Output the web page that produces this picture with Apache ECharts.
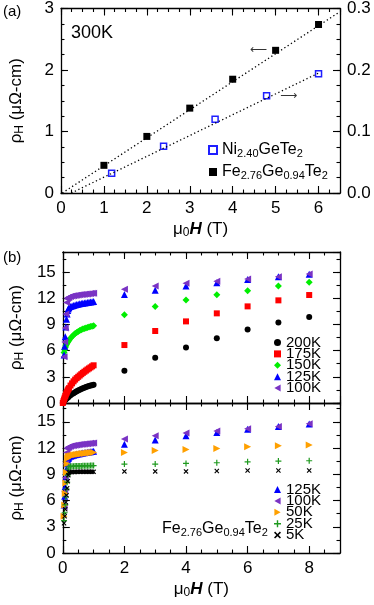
<!DOCTYPE html>
<html>
<head>
<meta charset="utf-8">
<script src="https://cdn.jsdelivr.net/npm/echarts@6/dist/echarts.min.js"></script>
<style>
html,body{margin:0;padding:0;background:#fff}
#main{width:374px;height:605px}
</style>
</head>
<body>
<div id="main"></div>
<script>
var FONT = '"Liberation Sans", Arial, Helvetica, sans-serif';

// (a) 300 K
var fieldFe = [1, 2, 3, 4, 5, 6];
var rhoFe = [0.45, 0.92, 1.38, 1.85, 2.32, 2.74];
var fieldNi = [1.18, 2.39, 3.59, 4.79, 6.0];
var rhoNi = [0.032, 0.076, 0.120, 0.158, 0.194];
var fitFe = [[0.03, 0], [6.46, 2.93]];
var fitNi = [[0.24, 0], [6.0, 0.195]];

// (b) field grids
var fieldLow = [0, 0.02, 0.04, 0.06, 0.08, 0.1, 0.12, 0.14, 0.16, 0.18, 0.2, 0.25, 0.3, 0.35, 0.4, 0.45, 0.5, 0.55, 0.6, 0.65, 0.7, 0.75, 0.8, 0.85, 0.9, 0.95, 1.0];
var fieldHigh = [2, 3, 4, 5, 6, 7, 8];

var low200 = [0, 0.1, 0.2, 0.28, 0.36, 0.44, 0.51, 0.58, 0.64, 0.7, 0.76, 0.9, 1.02, 1.13, 1.24, 1.34, 1.44, 1.53, 1.61, 1.69, 1.76, 1.83, 1.89, 1.95, 2.0, 2.04, 2.08];
var high200 = [3.69, 5.18, 6.36, 7.43, 8.42, 9.22, 9.86];
var low175 = [0, 0.2, 0.4, 0.6, 0.8, 0.98, 1.15, 1.3, 1.45, 1.58, 1.7, 2.0, 2.25, 2.48, 2.68, 2.85, 3.0, 3.15, 3.3, 3.45, 3.58, 3.71, 3.84, 3.96, 4.08, 4.2, 4.32];
var high175 = [6.64, 8.25, 9.35, 10.27, 11.07, 11.76, 12.37];
var low150 = [null, null, 5.8, 6.1, 6.35, 6.55, 6.72, 6.86, 6.98, 7.1, 7.2, 7.42, 7.62, 7.8, 7.95, 8.08, 8.2, 8.3, 8.39, 8.47, 8.54, 8.6, 8.66, 8.71, 8.76, 8.8, 8.84];
var high150 = [10.11, 11.07, 11.8, 12.41, 12.87, 13.4, 13.83];
var low125 = [null, null, 5.5, 6.5, 7.6, 8.7, 9.6, 10.2, 10.6, 10.8, 10.95, 11.05, 11.12, 11.18, 11.23, 11.28, 11.32, 11.36, 11.4, 11.43, 11.46, 11.49, 11.52, 11.55, 11.58, 11.6, 11.62];
var high125 = [12.42, 12.92, 13.4, 13.78, 14.15, 14.47, 14.76];
var low100 = [null, null, 5.3, 7.0, 8.6, 10.2, 11.5, 11.95, 12.05, 12.1, 12.15, 12.2, 12.25, 12.28, 12.31, 12.34, 12.37, 12.4, 12.42, 12.44, 12.46, 12.48, 12.5, 12.52, 12.54, 12.56, 12.58];
var high100 = [13.02, 13.4, 13.71, 13.94, 14.2, 14.47, 14.78];
var low50 = [null, null, 4.2, 5.5, 6.8, 8.0, 9.2, 10.2, 10.8, 11.0, 11.05, 11.1, 11.15, 11.2, 11.23, 11.26, 11.29, 11.32, 11.35, 11.37, 11.39, 11.41, 11.43, 11.45, 11.47, 11.49, 11.5];
var high50 = [11.49, 11.72, 11.84, 11.95, 12.14, 12.26, 12.34];
var low25 = [null, null, 3.7, 4.6, 5.5, 6.4, 7.3, 8.1, 8.9, 9.6, 9.85, 9.9, 9.92, 9.93, 9.94, 9.95, 9.95, 9.96, 9.96, 9.97, 9.97, 9.98, 9.98, 9.98, 9.99, 9.99, 10.0];
var high25 = [10.17, 10.17, 10.24, 10.32, 10.43, 10.51, 10.55];
var low5 = [null, null, 3.4, 4.2, 5.0, 5.8, 6.6, 7.4, 8.2, 8.9, 9.2, 9.25, 9.26, 9.27, 9.27, 9.28, 9.28, 9.28, 9.28, 9.28, 9.28, 9.28, 9.28, 9.28, 9.28, 9.28, 9.28];
var high5 = [9.33, 9.33, 9.33, 9.37, 9.44, 9.44, 9.44];

var legendA = ['Ni2.40GeTe2', 'Fe2.76Ge0.94Te2'];
var legendB1 = ['200K', '175K', '150K', '125K', '100K'];
var legendB2 = ['125K', '100K', '50K', '25K', '5K'];

function pts(xs, ys) {
	var out = [];
	for (var i = 0; i < xs.length; i++) {
		if (ys[i] != null) out.push([xs[i], ys[i]]);
	}
	return out;
}
function curve(low, high) {
	return pts(fieldLow, low).concat(pts(fieldHigh, high));
}

var richText = {
	n: {fontSize: 16, fontFamily: FONT, color: '#000', lineHeight: 18},
	s: {fontSize: 11, fontFamily: FONT, color: '#000', lineHeight: 11, padding: [7, 0, 0, 0]}
};
var nameRich = {
	m: {fontSize: 17, fontFamily: FONT, color: '#000'},
	s: {fontSize: 12, fontFamily: FONT, color: '#000', padding: [7, 0, 0, 0]},
	h: {fontSize: 17, fontFamily: FONT, color: '#000', fontWeight: 'bold', fontStyle: 'italic'}
};
var formulaText = {
	'Ni2.40GeTe2': '{n|Ni}{s|2.40}{n|GeTe}{s|2}',
	'Fe2.76Ge0.94Te2': '{n|Fe}{s|2.76}{n|Ge}{s|0.94}{n|Te}{s|2}'
};
var xName = '{m|μ}{s|0}{h|H}{m| (T)}';
var yName = '{m|ρ}{s|H}{m| (μΩ-cm)}';

// one axis; minor ones carry only short ticks
function ax(grid, pos, min, max, step, minor, label, name) {
	var vertical = (pos == 'left' || pos == 'right');
	var a = {
		type: 'value', gridIndex: grid, position: pos,
		min: min, max: max, interval: step,
		axisLine: {show: !minor, onZero: false, lineStyle: {color: '#000', width: 1.3}},
		axisTick: {show: true, inside: true, length: minor ? 3.5 : 7, lineStyle: {color: '#000', width: 1.1}},
		axisLabel: {show: false},
		splitLine: {show: false}
	};
	if (label) {
		a.axisLabel = Object.assign({show: true, color: '#000', fontSize: 17, fontFamily: FONT, margin: 7}, label);
	}
	if (name) {
		a.name = name;
		a.nameLocation = 'middle';
		a.nameGap = vertical ? 35 : 27;
		a.nameRotate = vertical ? 90 : 0;
		a.nameTextStyle = {rich: nameRich, fontSize: 17, fontFamily: FONT, color: '#000'};
	}
	return a;
}

var xAxes = [
	// (a)
	ax(0, 'bottom', 0, 6.5, 1, false, {showMaxLabel: false}, xName),
	ax(0, 'bottom', 0, 6.5, 0.25, true),
	ax(0, 'top', 0, 6.5, 1, false),
	ax(0, 'top', 0, 6.5, 0.25, true),
	// (b) upper
	ax(1, 'bottom', 0, 9, 2, false),
	ax(1, 'bottom', 0, 9, 0.5, true),
	ax(1, 'top', 0, 9, 2, false),
	ax(1, 'top', 0, 9, 0.5, true),
	// (b) lower
	ax(2, 'bottom', 0, 9, 2, false, {showMaxLabel: false}, xName),
	ax(2, 'bottom', 0, 9, 0.5, true),
	ax(2, 'top', 0, 9, 2, false),
	ax(2, 'top', 0, 9, 0.5, true)
];
var yAxes = [
	ax(0, 'left', 0, 3, 1, false, {showMaxLabel: true}, yName),
	ax(0, 'left', 0, 3, 0.25, true),
	ax(0, 'right', 0, 0.3, 0.1, false, {showMaxLabel: true, formatter: function (v) { return v.toFixed(1); }}),
	ax(0, 'right', 0, 0.3, 0.025, true),
	ax(1, 'left', 0, 17.3, 3, false, {showMaxLabel: false}, yName),
	ax(1, 'left', 0, 17.3, 1.5, true),
	ax(1, 'right', 0, 17.3, 3, false),
	ax(1, 'right', 0, 17.3, 1.5, true),
	ax(2, 'left', 0, 17.15, 3, false, {showMaxLabel: false}, yName),
	ax(2, 'left', 0, 17.15, 1.5, true),
	ax(2, 'right', 0, 17.15, 3, false),
	ax(2, 'right', 0, 17.15, 1.5, true)
];

var plusPath = 'path://M4,0H6V4H10V6H6V10H4V6H0V4H4Z';
var crossPath = 'path://M0,1.6L1.6,0L5,3.4L8.4,0L10,1.6L6.6,5L10,8.4L8.4,10L5,6.6L1.6,10L0,8.4L3.4,5Z';
var leftTri = 'path://M0,5L9,0L9,10Z';
var rightTri = 'path://M9,5L0,0L0,10Z';

// axisIdx: 4 = upper (b), 8 = lower (b)
function sc(name, data, axisIdx, symbol, size, color) {
	return {
		type: 'scatter', name: name, data: data,
		xAxisIndex: axisIdx, yAxisIndex: axisIdx,
		symbol: symbol, symbolSize: size,
		itemStyle: {color: color, opacity: 1},
		silent: true
	};
}

var purple = '#7a33c4';
var arrowLabel = {show: true, position: 'inside', fontSize: 12, fontFamily: '"DejaVu Sans"', color: '#000'};
var series = [
	{
		type: 'line', name: 'fitFe', data: fitFe, xAxisIndex: 0, yAxisIndex: 0,
		showSymbol: false, symbol: 'none', silent: true,
		lineStyle: {color: '#000', width: 1.3, type: [1.3, 2.6]}
	},
	{
		type: 'line', name: 'fitNi', data: fitNi, xAxisIndex: 0, yAxisIndex: 2,
		showSymbol: false, symbol: 'none', silent: true,
		lineStyle: {color: '#000', width: 1.3, type: [1.3, 2.6]}
	},
	{
		type: 'scatter', name: 'Ni2.40GeTe2', data: pts(fieldNi, rhoNi),
		xAxisIndex: 0, yAxisIndex: 2, symbol: 'rect', symbolSize: 6,
		itemStyle: {color: '#fff', borderColor: '#1f1fff', borderWidth: 1.5, opacity: 1}, silent: true
	},
	{
		type: 'scatter', name: 'Fe2.76Ge0.94Te2', data: pts(fieldFe, rhoFe),
		xAxisIndex: 0, yAxisIndex: 0, symbol: 'rect', symbolSize: 7,
		itemStyle: {color: '#000', opacity: 1}, silent: true
	},
	{
		type: 'scatter', name: 'arrowL', data: [[4.6, 2.32]], xAxisIndex: 0, yAxisIndex: 0,
		symbolSize: 1, itemStyle: {color: 'rgba(0,0,0,0)'}, silent: true,
		label: Object.assign({formatter: '\u27f5'}, arrowLabel)
	},
	{
		type: 'scatter', name: 'arrowR', data: [[5.3, 0.158]], xAxisIndex: 0, yAxisIndex: 2,
		symbolSize: 1, itemStyle: {color: 'rgba(0,0,0,0)'}, silent: true,
		label: Object.assign({formatter: '\u27f6'}, arrowLabel)
	},
	// (b) upper
	sc('200K', curve(low200, high200), 4, 'circle', 6, '#000'),
	sc('175K', curve(low175, high175), 4, 'rect', 6, '#ff0000'),
	sc('150K', curve(low150, high150), 4, 'diamond', 7, '#00ee00'),
	sc('125K', curve(low125, high125), 4, 'triangle', 7, '#0000ff'),
	sc('100K', curve(low100, high100), 4, leftTri, 7, purple),
	// (b) lower
	sc('125K', curve(low125, high125), 8, 'triangle', 7, '#0000ff'),
	sc('100K', curve(low100, high100), 8, leftTri, 7, purple),
	sc('50K', curve(low50, high50), 8, rightTri, 7, '#ffa000'),
	sc('25K', curve(low25, high25), 8, plusPath, 6, '#1f9a1f'),
	sc('5K', curve(low5, high5), 8, crossPath, 5, '#000')
];

var legendBase = {
	orient: 'vertical', selectedMode: false, padding: 0,
	itemWidth: 7, itemHeight: 7, itemGap: -3.6,
	textStyle: {fontSize: 15, fontFamily: FONT, color: '#000'}
};

var option = {
	backgroundColor: '#fff',
	animation: false,
	grid: [
		{left: 57, top: 8, width: 283, height: 185},
		{left: 57, top: 252, width: 283, height: 151},
		{left: 57, top: 403, width: 283, height: 150}
	],
	xAxis: xAxes,
	yAxis: yAxes,
	legend: [
		{
			orient: 'vertical', selectedMode: false, data: legendA, padding: 0,
			left: 208, top: 141, itemWidth: 8, itemHeight: 8, itemGap: 4,
			formatter: function (n) { return formulaText[n]; },
			textStyle: {rich: richText, fontSize: 16, fontFamily: FONT, color: '#000'}
		},
		Object.assign({}, legendBase, {data: legendB1, left: 274, top: 335}),
		Object.assign({}, legendBase, {data: legendB2, left: 274, top: 482})
	],
	graphic: [
		{type: 'text', left: 3, top: 4, style: {text: '(a)', font: '15px ' + FONT, fill: '#000'}},
		{type: 'text', left: 71, top: 24, style: {text: '300K', font: '18px ' + FONT, fill: '#000'}},
		{type: 'text', left: 3, top: 250, style: {text: '(b)', font: '15px ' + FONT, fill: '#000'}},
		{type: 'text', left: 162, top: 520, style: {text: formulaText['Fe2.76Ge0.94Te2'], rich: richText, font: '16px ' + FONT, fill: '#000'}}
	],
	series: series
};

var chart = echarts.init(document.getElementById('main'), null, {renderer: 'canvas'});
chart.setOption(option);
</script>
</body>
</html>
